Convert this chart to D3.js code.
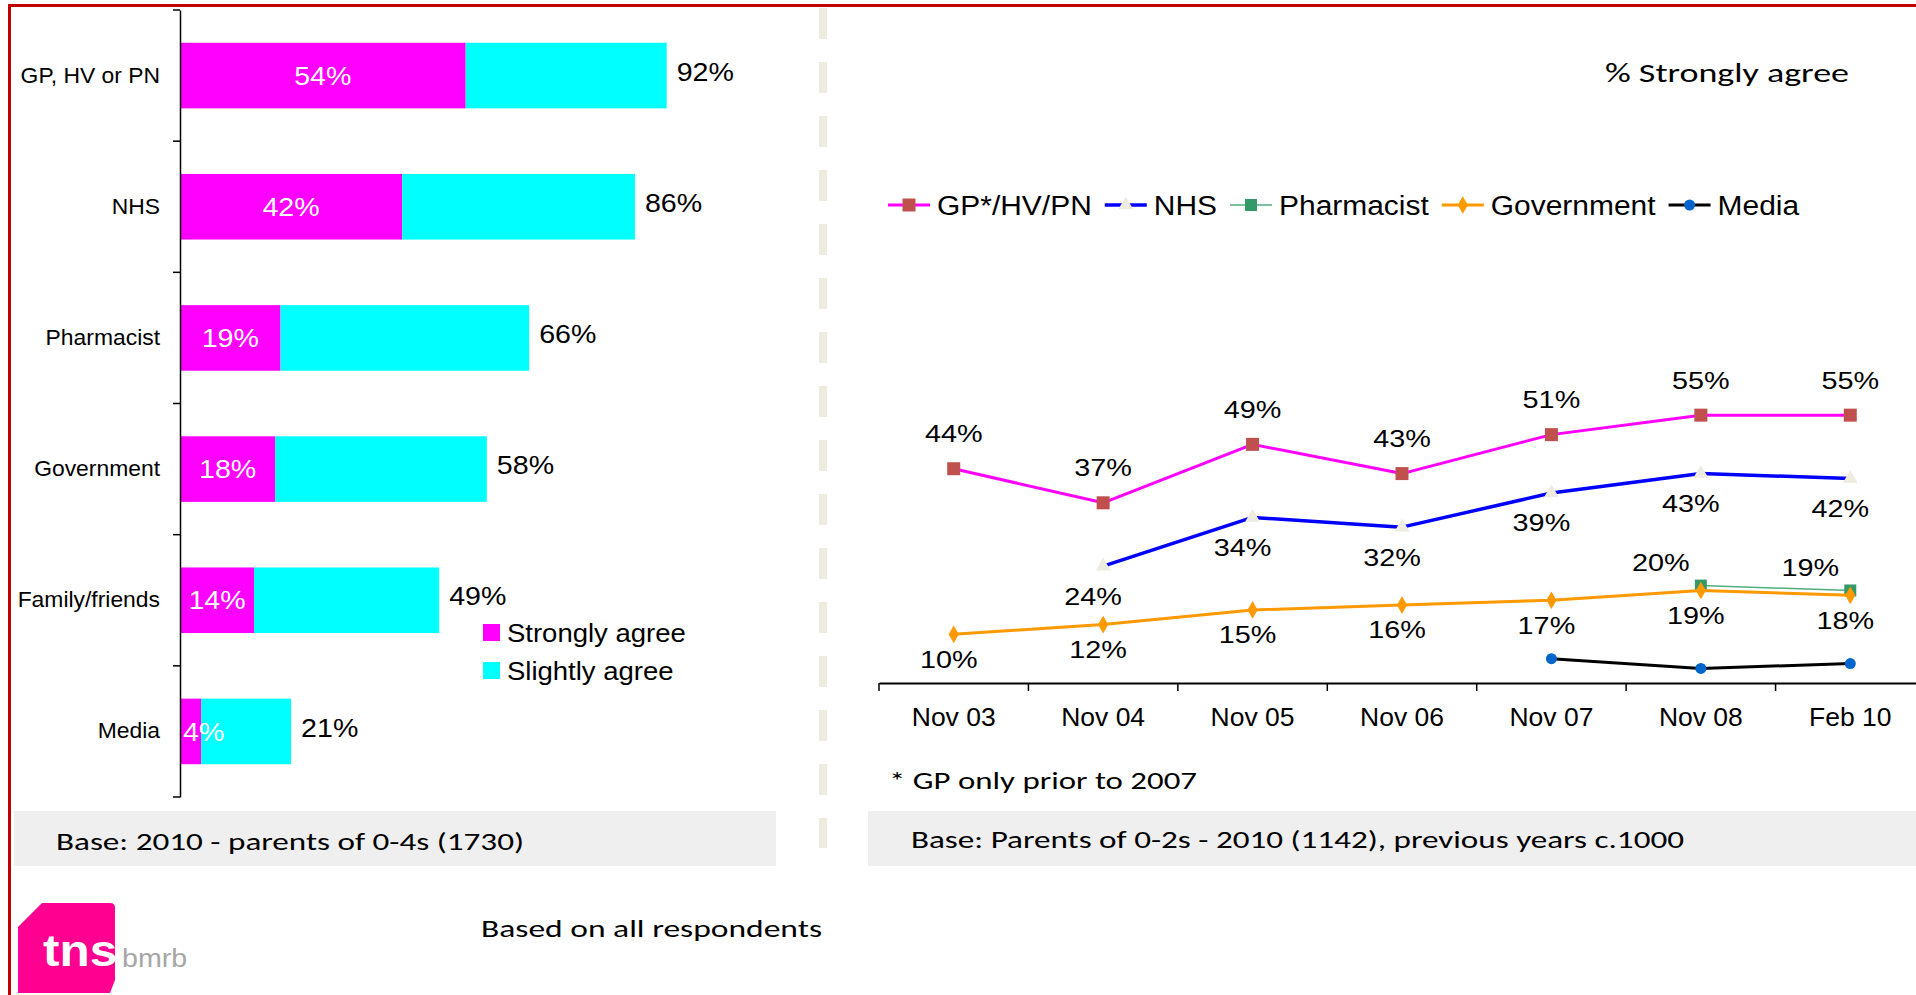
<!DOCTYPE html>
<html>
<head>
<meta charset="utf-8">
<script src="https://cdn.jsdelivr.net/npm/d3@7"></script>
<style>
  body { margin: 0; background: #fff; }
  svg { display: block; }
</style>
</head>
<body>
<svg id="chart"></svg>
<script>
// left panel - 2010 agreement by source
var barCategories = ["GP, HV or PN", "NHS", "Pharmacist", "Government", "Family/friends", "Media"];
var stronglyAgree = [54, 42, 19, 18, 14, 4];
var slightlyAgree = [38, 44, 47, 40, 35, 17];
var barLegend = ["Strongly agree", "Slightly agree"];

// right panel - % strongly agree over time
var waves = ["Nov 03", "Nov 04", "Nov 05", "Nov 06", "Nov 07", "Nov 08", "Feb 10"];
var gpTrend = [44, 37, 49, 43, 51, 55, 55];
var nhsTrend = [null, 24, 34, 32, 39, 43, 42];
var pharmacistTrend = [null, null, null, null, null, 20, 19];
var governmentTrend = [10, 12, 15, 16, 17, 19, 18];
var mediaTrend = [null, null, null, null, 5, 3, 4];
var trendNames = ["GP*/HV/PN", "NHS", "Pharmacist", "Government", "Media"];

var W = 1916, H = 995;
var arial = "'Liberation Sans', Arial, sans-serif";
var calibri = "Carlito, Calibri, Lato, sans-serif";

var svg = d3.select("#chart").attr("width", W).attr("height", H);

// the source picture is a little wider than the fonts, so stretch text sideways
function stretch(sel, sx) {
  sel.attr("transform", function() {
    var x = +this.getAttribute("x") || 0, y = +this.getAttribute("y") || 0;
    return "translate(" + x + "," + y + ") scale(" + sx + ",1) translate(" + (-x) + "," + (-y) + ")";
  });
}

// slide frame
svg.append("path")
  .attr("d", "M9.5," + H + " V5.5 H" + W)
  .attr("fill", "none")
  .attr("stroke", "#c00000")
  .attr("stroke-width", 3);

// dashed divider
svg.append("line")
  .attr("x1", 823).attr("x2", 823)
  .attr("y1", 8).attr("y2", 848)
  .attr("stroke", "#eeece1")
  .attr("stroke-width", 8)
  .attr("stroke-dasharray", "31,23");

// ---------------- bar chart ----------------
var bar = { left: 180, right: 709, top: 10, bottom: 797 };

var yBar = d3.scaleBand()
  .domain(barCategories)
  .range([bar.top, bar.bottom])
  .paddingInner(0.5)
  .paddingOuter(0.25);

var xBar = d3.scaleLinear()
  .domain([0, 100])
  .range([bar.left, bar.right]);

var barRows = barCategories.map(function(c, i) {
  return { cat: c, strong: stronglyAgree[i], slight: slightlyAgree[i] };
});
var stacked = d3.stack().keys(["strong", "slight"])(barRows);
var barColors = { strong: "#ff00ff", slight: "#00ffff" };

svg.append("g")
  .selectAll("g")
  .data(stacked)
  .join("g")
    .attr("fill", function(d) { return barColors[d.key]; })
  .selectAll("rect")
  .data(function(d) { return d; })
  .join("rect")
    .attr("x", function(d) { return xBar(d[0]); })
    .attr("width", function(d) { return xBar(d[1]) - xBar(d[0]); })
    .attr("y", function(d) { return yBar(d.data.cat); })
    .attr("height", yBar.bandwidth());

var yAxis = svg.append("g")
  .attr("transform", "translate(" + bar.left + ",0)")
  .call(d3.axisLeft(yBar).tickSize(0).tickPadding(20).tickSizeOuter(0));
yAxis.select(".domain").attr("stroke", "#000").attr("stroke-width", 1.5);
yAxis.selectAll(".tick text")
  .attr("font-family", arial)
  .attr("font-size", 22)
  .attr("fill", "#000")
  .call(stretch, 1.04);

// tick marks sit between the bands
var barEdges = barCategories.map(function(c) {
  return yBar(c) - yBar.step() * yBar.paddingInner() / 2;
}).concat([bar.bottom]);
svg.append("g")
  .selectAll("line")
  .data(barEdges)
  .join("line")
    .attr("x1", bar.left - 7).attr("x2", bar.left)
    .attr("y1", function(d) { return d; })
    .attr("y2", function(d) { return d; })
    .attr("stroke", "#000")
    .attr("stroke-width", 1.5);

// totals at the end of the bars
svg.append("g")
  .selectAll("text")
  .data(barRows)
  .join("text")
    .text(function(d) { return (d.strong + d.slight) + "%"; })
    .attr("x", function(d) { return xBar(d.strong + d.slight) + 10; })
    .attr("y", function(d) { return yBar(d.cat) + yBar.bandwidth() / 2 - 4; })
    .attr("dy", "0.35em")
    .attr("font-family", arial)
    .attr("font-size", 26)
    .attr("fill", "#000")
    .call(stretch, 1.1);

// strongly agree inside the magenta part
svg.append("g")
  .selectAll("text")
  .data(barRows)
  .join("text")
    .text(function(d) { return d.strong + "%"; })
    .attr("y", function(d) { return yBar(d.cat) + yBar.bandwidth() / 2; })
    .attr("dy", "0.35em")
    .attr("text-anchor", "middle")
    .attr("font-family", arial)
    .attr("font-size", 26)
    .attr("fill", "#fff")
    .attr("x", function(d) {
      var w = this.getComputedTextLength() * 1.1;
      return Math.max((xBar(0) + xBar(d.strong)) / 2, bar.left + w / 2 + 3);
    })
    .call(stretch, 1.1);

var barLeg = svg.append("g")
  .selectAll("g")
  .data(barLegend)
  .join("g")
    .attr("transform", function(d, i) { return "translate(483," + (624 + i * 38) + ")"; });
barLeg.append("rect")
  .attr("width", 17).attr("height", 17)
  .attr("fill", function(d, i) { return i === 0 ? barColors.strong : barColors.slight; });
barLeg.append("text")
  .text(function(d) { return d; })
  .attr("x", 24).attr("y", 9)
  .attr("dy", "0.35em")
  .attr("font-family", arial)
  .attr("font-size", 25)
  .attr("fill", "#000")
  .call(stretch, 1.1);

// ---------------- line chart ----------------
var plot = { left: 879, right: 1925, top: 196, bottom: 683 };

var xLine = d3.scaleBand().domain(waves).range([plot.left, plot.right]);
var yLine = d3.scaleLinear().domain([0, 100]).range([plot.bottom, plot.top]);
var half = xLine.bandwidth() / 2;

var xAxis = svg.append("g")
  .attr("transform", "translate(0," + plot.bottom + ")")
  .call(d3.axisBottom(xLine).tickSize(0).tickPadding(25).tickSizeOuter(0));
xAxis.select(".domain").attr("stroke", "#000").attr("stroke-width", 2);
xAxis.selectAll(".tick text")
  .attr("font-family", arial)
  .attr("font-size", 25)
  .attr("fill", "#000")
  .call(stretch, 1.06);

svg.append("g")
  .selectAll("line")
  .data(waves)
  .join("line")
    .attr("x1", function(d) { return xLine(d); })
    .attr("x2", function(d) { return xLine(d); })
    .attr("y1", plot.bottom)
    .attr("y2", plot.bottom + 8)
    .attr("stroke", "#000")
    .attr("stroke-width", 1.5);

var trendSeries = [
  { name: trendNames[0], values: gpTrend, line: "#ff00ff", width: 3, marker: d3.symbolSquare, size: 169, fill: "#c0504d", dx: 0, dy: -35 },
  { name: trendNames[1], values: nhsTrend, line: "#0000ff", width: 3.5, marker: d3.symbolTriangle, size: 95, fill: "#eeece1", dx: -10, dy: 30 },
  { name: trendNames[2], values: pharmacistTrend, line: "#4fae7f", width: 1.5, marker: d3.symbolSquare, size: 144, fill: "#339966", dx: -40, dy: -23 },
  { name: trendNames[3], values: governmentTrend, line: "#ff9900", width: 3, marker: d3.symbolDiamond, size: 90, fill: "#ff9900", dx: -5, dy: 25 },
  { name: trendNames[4], values: mediaTrend, line: "#000000", width: 3, marker: d3.symbolCircle, size: 95, fill: "#0066cc", dx: 0, dy: null }
];

var lineGen = d3.line()
  .defined(function(d) { return d != null; })
  .x(function(d, i) { return xLine(waves[i]) + half; })
  .y(function(d) { return yLine(d); });

trendSeries.forEach(function(s) {
  var g = svg.append("g");
  g.append("path")
    .attr("d", lineGen(s.values))
    .attr("fill", "none")
    .attr("stroke", s.line)
    .attr("stroke-width", s.width)
    .attr("stroke-linejoin", "round");

  var pts = s.values.map(function(v, i) { return { v: v, wave: waves[i] }; })
    .filter(function(p) { return p.v != null; });

  g.selectAll("path.marker")
    .data(pts)
    .join("path")
      .attr("class", "marker")
      .attr("d", d3.symbol().type(s.marker).size(s.size))
      .attr("transform", function(p) { return "translate(" + (xLine(p.wave) + half) + "," + yLine(p.v) + ")"; })
      .attr("fill", s.fill);

  if (s.dy != null) {
    g.selectAll("text")
      .data(pts)
      .join("text")
        .text(function(p) { return p.v + "%"; })
        .attr("x", function(p) { return xLine(p.wave) + half + s.dx; })
        .attr("y", function(p) { return yLine(p.v) + s.dy; })
        .attr("dy", "0.35em")
        .attr("text-anchor", "middle")
        .attr("font-family", arial)
        .attr("font-size", 24)
        .attr("fill", "#000")
        .call(stretch, 1.2);
  }
});

// legend across the top of the plot
var legX = 888, legY = 205;
trendSeries.forEach(function(s) {
  var g = svg.append("g").attr("transform", "translate(" + legX + "," + legY + ")");
  g.append("line")
    .attr("x1", 0).attr("x2", 42)
    .attr("stroke", s.line)
    .attr("stroke-width", s.width);
  g.append("path")
    .attr("d", d3.symbol().type(s.marker).size(s.size)())
    .attr("transform", "translate(21,0)")
    .attr("fill", s.fill);
  var t = g.append("text")
    .text(s.name)
    .attr("x", 49).attr("y", 0)
    .attr("dy", "0.35em")
    .attr("font-family", arial)
    .attr("font-size", 28)
    .attr("fill", "#000")
    .call(stretch, 1.07);
  legX += 49 + t.node().getComputedTextLength() * 1.07 + 13;
});

// ---------------- titles, notes, bases ----------------
function note(txt, x, y, len, size) {
  return svg.append("text")
    .text(txt)
    .attr("x", x).attr("y", y)
    .attr("dy", "0.35em")
    .attr("font-family", calibri)
    .attr("font-size", size)
    .attr("fill", "#000")
    .attr("textLength", len)
    .attr("lengthAdjust", "spacingAndGlyphs");
}

note("% Strongly agree", 1605, 73, 244, 27);
note("* GP only prior to 2007", 889, 780, 308, 25);

svg.append("rect").attr("x", 14).attr("y", 811).attr("width", 762).attr("height", 55).attr("fill", "#efefef");
svg.append("rect").attr("x", 868).attr("y", 811).attr("width", W - 868).attr("height", 55).attr("fill", "#efefef");
note("Base: 2010 - parents of 0-4s (1730)", 56, 842, 468, 24);
note("Base: Parents of 0-2s - 2010 (1142), previous years c.1000", 911, 840, 773, 24);
note("Based on all respondents", 481, 928, 341, 25);

// tns bmrb logo
var logo = svg.append("g");
logo.append("path")
  .attr("d", "M18,927 L42,903 H110 Q115,903 115,908 V980 L110,993 H18 Z")
  .attr("fill", "#ff0090");
logo.append("text")
  .text("tns")
  .attr("x", 43).attr("y", 966)
  .attr("font-family", arial)
  .attr("font-weight", "bold")
  .attr("font-size", 45)
  .attr("fill", "#fff")
  .call(stretch, 1.1);
logo.append("text")
  .text("bmrb")
  .attr("x", 122).attr("y", 967)
  .attr("font-family", arial)
  .attr("font-size", 26)
  .attr("fill", "#a6a6a6")
  .call(stretch, 1.1);
</script>
</body>
</html>
